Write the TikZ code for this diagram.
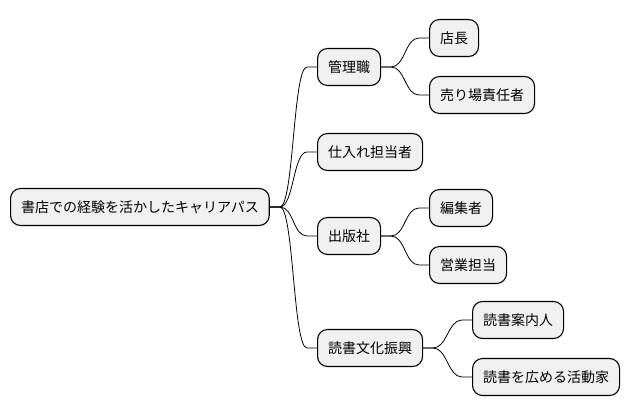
\documentclass[tikz,border=0pt]{standalone}
\usepackage{fontspec}
\setmainfont{Noto Sans CJK JP}
\usetikzlibrary{calc}

\begin{document}
\begin{tikzpicture}[x=1pt,y=-1pt,box/.style={draw,line width=1.1pt,rounded corners=10pt,
  fill=black!6,anchor=west,minimum height=37pt,inner xsep=10.5pt,font=\fontsize{14}{17}\selectfont},
  branch/.style={line width=0.8pt,to path={-- ++(10,0) .. controls +(14,0) and +(-14,0)
  .. ($(\tikztotarget)+(-10,0)$) -- (\tikztotarget)}}]
\useasboundingbox (0,0) rectangle (628,415);
\node[box] (root) at (10,207) {書店での経験を活かしたキャリアパス};
\node[box] (kanri) at (317,67) {管理職};
\node[box] (tencho) at (429,38) {店長};
\node[box] (uriba) at (429,95) {売り場責任者};
\node[box] (shiire) at (317,152) {仕入れ担当者};
\node[box] (shuppan) at (317,236) {出版社};
\node[box] (henshu) at (429,208) {編集者};
\node[box] (eigyo) at (429,265) {営業担当};
\node[box] (dokusho) at (317,348) {読書文化振興};
\node[box] (annai) at (472,320) {読書案内人};
\node[box] (katsudo) at (472,377) {読書を広める活動家};
\draw[branch] (root.east) to (kanri.west);\draw[branch] (root.east) to (shiire.west);
\draw[branch] (root.east) to (shuppan.west);\draw[branch] (root.east) to (dokusho.west);
\draw[branch] (kanri.east) to (tencho.west);\draw[branch] (kanri.east) to (uriba.west);
\draw[branch] (shuppan.east) to (henshu.west);\draw[branch] (shuppan.east) to (eigyo.west);
\draw[branch] (dokusho.east) to (annai.west);\draw[branch] (dokusho.east) to (katsudo.west);
\end{tikzpicture}
\end{document}
